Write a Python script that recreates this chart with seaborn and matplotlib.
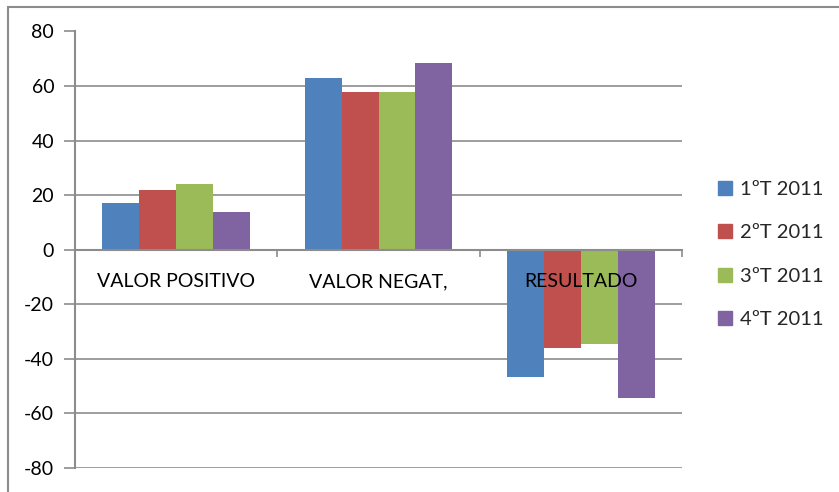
import matplotlib
matplotlib.use("Agg")
import matplotlib.pyplot as plt
import matplotlib.patches as mpatches
import seaborn as sns
import pandas as pd

categories = ["VALOR POSITIVO", "VALOR NEGAT,", "RESULTADO"]
series = ["1ºT 2011", "2ºT 2011", "3ºT 2011", "4ºT 2011"]
t1 = [17, 63, -46.5]
t2 = [22, 58, -36]
t3 = [24, 58, -34.5]
t4 = [14, 68.5, -54.5]
colors = ["#4F81BD", "#C0504D", "#9BBB59", "#8064A2"]
yticks = [-80, -60, -40, -20, 0, 20, 40, 60, 80]

rows = []
for s, vals in zip(series, [t1, t2, t3, t4]):
    for c, v in zip(categories, vals):
        rows.append({"cat": c, "serie": s, "valor": v})
df = pd.DataFrame(rows)

sns.set_theme(style="white")
plt.rcParams["font.family"] = ["Lato", "DejaVu Sans"]

W, H = 839, 492
fig = plt.figure(figsize=(W / 100, H / 100), dpi=100)
ax = fig.add_axes([75 / W, 1 - 468 / H, 607 / W, (468 - 31.5) / H])

sns.barplot(data=df, x="cat", y="valor", hue="serie", order=categories,
            hue_order=series, palette=colors, width=0.73, saturation=1,
            edgecolor="none", ax=ax, legend=True)

ax.set_ylim(-80, 80)
ax.set_xlim(-0.5, 2.5)
ax.set_yticks(yticks)
ax.set_yticklabels([str(v) for v in yticks], fontsize=14, color="black")
ax.set_axisbelow(True)
ax.yaxis.grid(True, color="#8c8c8c", lw=1.2)
ax.set_xlabel("")
ax.set_ylabel("")

for side in ["top", "right"]:
    ax.spines[side].set_visible(False)
ax.spines["left"].set_color("#8c8c8c")
ax.spines["left"].set_linewidth(1.5)
ax.spines["bottom"].set_position(("data", 0))
ax.spines["bottom"].set_color("#8c8c8c")
ax.spines["bottom"].set_linewidth(1.5)

ax.tick_params(axis="y", length=8, width=1.2, color="#8c8c8c", pad=7, left=True)
ax.set_xticks([0.5, 1.5, 2.5])
ax.set_xticklabels([])
ax.tick_params(axis="x", length=5, width=1.2, color="#8c8c8c", direction="out", bottom=True)

for i, c in enumerate(categories):
    ax.annotate(c, xy=(i, 0), xytext=(0, -32), textcoords="offset pixels",
                ha="center", va="center", fontsize=14, color="black", zorder=10)

handles = [mpatches.Patch(color=col, label=s) for col, s in zip(colors, series)]
ax.legend(handles=handles, loc="upper left", bbox_to_anchor=(712 / W, 1 - 175 / H),
          bbox_transform=fig.transFigure, frameon=False, fontsize=14.5,
          handlelength=0.7, handleheight=0.7, handletextpad=0.4,
          labelspacing=1.3, borderpad=0, borderaxespad=0.3)

fig.patches.append(mpatches.Rectangle((8 / W, -0.05), 1.1, 1 - 7 / H + 0.05,
                                      transform=fig.transFigure, fill=False,
                                      edgecolor="#8c8c8c", lw=1.5))

fig.savefig("out.png", dpi=100)
